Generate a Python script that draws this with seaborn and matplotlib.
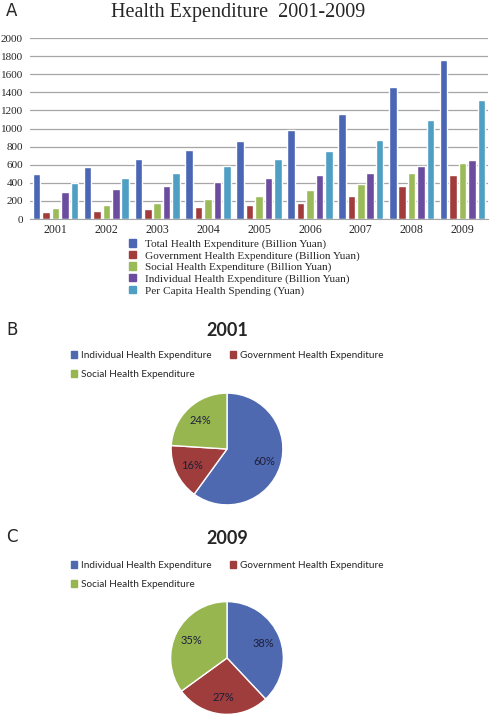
import pandas as pd
import seaborn as sns
import matplotlib.pyplot as plt
from matplotlib.patches import Patch

# Health expenditure data
years = ['2001', '2002', '2003', '2004', '2005', '2006', '2007', '2008', '2009']
total = [502.6, 579.0, 658.4, 759.0, 866.0, 984.3, 1157.4, 1453.5, 1754.2]
government = [80.1, 90.9, 111.7, 129.4, 155.3, 177.9, 258.2, 359.4, 481.6]
social = [121.1, 153.9, 178.9, 222.5, 258.6, 321.1, 389.4, 506.6, 615.5]
individual = [301.4, 334.2, 367.9, 407.1, 452.1, 485.4, 509.9, 587.6, 657.1]
per_capita = [393.8, 450.7, 509.5, 583.9, 662.3, 748.8, 876.0, 1094.5, 1314.3]

series_names = ['Total Health Expenditure (Billion Yuan)',
                'Government Health Expenditure (Billion Yuan)',
                'Social Health Expenditure (Billion Yuan)',
                'Individual Health Expenditure (Billion Yuan)',
                'Per Capita Health Spending (Yuan)']
bar_colors = ['#4a66b4', '#a23b3b', '#9bbb59', '#6b4c9e', '#4f9fc4']

pie_labels = ['Individual Health Expenditure', 'Government Health Expenditure',
              'Social Health Expenditure']
shares_2001 = [60, 16, 24]
shares_2009 = [38, 27, 35]
pie_colors = ['#4f69b0', '#9e3d3b', '#97b64f']

sns.set_style('white')
plt.rcParams['font.family'] = ['Liberation Serif', 'DejaVu Serif']

df = pd.DataFrame({'Year': years * 5,
                   'Series': [s for s in series_names for _ in years],
                   'Value': total + government + social + individual + per_capita})

fig = plt.figure(figsize=(4.9, 7.17), dpi=100)

# --- Panel A: grouped bars ---
ax = fig.add_axes([30 / 490, 1 - 219 / 717, 458 / 490, 181 / 717])
sns.barplot(data=df, x='Year', y='Value', hue='Series', palette=bar_colors,
            width=0.93, saturation=1, ax=ax, legend=False)
for p in ax.patches:
    w = p.get_width()
    p.set_x(p.get_x() + w * 0.1)
    p.set_width(w * 0.8)
ax.set_ylim(0, 2000)
ax.set_yticks(range(0, 2001, 200))
ax.yaxis.grid(True, color='#a6a6a6', linewidth=0.9)
ax.set_axisbelow(True)
for side in ['left', 'right', 'top']:
    ax.spines[side].set_visible(False)
ax.spines['bottom'].set_color('#a6a6a6')
ax.tick_params(axis='x', length=0, labelsize=8.5)
ax.tick_params(axis='y', length=0, labelsize=8, pad=5)
ax.set_xlabel('')
ax.set_ylabel('')

fig.text(238 / 490, 1 - 12 / 717, 'Health Expenditure  2001-2009', ha='center', va='center',
         fontsize=14.5)
fig.text(6 / 490, 1 - 11 / 717, 'A', ha='left', va='center', fontsize=12,
         family=['DejaVu Sans'])

handles = [Patch(color=c, label=n) for c, n in zip(bar_colors, series_names)]
fig.legend(handles=handles, loc='upper left', bbox_to_anchor=(129 / 490, 1 - 239 / 717),
           frameon=False, fontsize=8.1, handlelength=0.65, handleheight=0.65,
           handletextpad=0.8, labelspacing=0.15, borderpad=0, borderaxespad=0)


# --- Panels B and C: pies ---
def draw_pie(shares, cx, cy, r, title, letter, ty, ly):
    pax = fig.add_axes([(cx - r) / 490, 1 - (cy + r) / 717, 2 * r / 490, 2 * r / 717])
    pax.pie(shares, colors=pie_colors, startangle=90, counterclock=False,
            autopct='%d%%', pctdistance=0.7,
            wedgeprops=dict(edgecolor='white', linewidth=1),
            textprops=dict(fontsize=8, color='#1e1e3a', family=['Lato', 'DejaVu Sans']))
    pax.set_xlim(-1.02, 1.02)
    pax.set_ylim(-1.02, 1.02)
    fig.text(cx / 490, 1 - ty / 717, title, ha='center', va='center', fontsize=13,
             fontweight='bold', family=['Lato', 'DejaVu Sans'])
    fig.text(6 / 490, 1 - (ty - 1) / 717, letter, ha='left', va='center', fontsize=12,
             family=['DejaVu Sans'])
    # column-major legend order so that row 1 reads Individual, Government
    order = [0, 2, 1]
    ph = [Patch(color=pie_colors[i], label=pie_labels[i]) for i in order]
    fig.legend(handles=ph, loc='upper left', bbox_to_anchor=(71 / 490, 1 - ly / 717),
               ncol=2, frameon=False, prop=dict(size=7.2, family=['Lato', 'DejaVu Sans']),
               handlelength=0.6, handleheight=0.6, handletextpad=0.4,
               labelspacing=1.0, columnspacing=1.8, borderpad=0, borderaxespad=0)


draw_pie(shares_2001, 227, 449, 57, '2001', 'B', 331, 351)
draw_pie(shares_2009, 227, 658, 57.5, '2009', 'C', 538, 561)

fig.savefig('out.png', dpi=100)
